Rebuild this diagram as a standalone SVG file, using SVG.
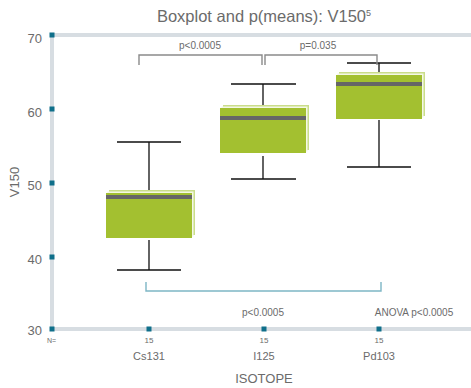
<svg xmlns="http://www.w3.org/2000/svg" width="471" height="388" viewBox="0 0 471 388">
  <style>
    .txt { font-family: "Liberation Sans", "DejaVu Sans", sans-serif; fill: #6b6b6b; }
    .axis { stroke: #d7dde2; stroke-width: 4; fill: none; }
    .tick { fill: #0f6f8a; }
    .whisk { stroke: #111; stroke-width: 1.3; fill: none; }
    .back { fill: #cadd8a; }
    .gap { fill: #f4f8e6; }
    .box { fill: #a3c030; }
    .med { fill: #666; }
    .brk { stroke: #8a8a8a; stroke-width: 1.4; fill: none; }
    .anova { stroke: #7db6c5; stroke-width: 1.4; fill: none; }
  </style>
  <rect width="471" height="388" fill="#fff"/>

  <text class="txt" x="264" y="22" font-size="16.5" text-anchor="middle">Boxplot and p(means): V150<tspan font-size="9" dy="-6">5</tspan></text>

  <!-- axes frame -->
  <g id="axes">
    <path class="axis" d="M52 35 H471 M52 35 V329 M52 329 H471"/>
    <rect class="tick" x="49.5" y="32.5" width="5" height="5"/>
    <rect class="tick" x="49.5" y="106.5" width="5" height="5"/>
    <rect class="tick" x="49.5" y="180.5" width="5" height="5"/>
    <rect class="tick" x="49.5" y="254.5" width="5" height="5"/>
    <rect class="tick" x="49.5" y="326.5" width="5" height="5"/>
    <rect class="tick" x="146.5" y="326.5" width="5" height="5"/>
    <rect class="tick" x="261.5" y="326.5" width="5" height="5"/>
    <rect class="tick" x="376.5" y="326.5" width="5" height="5"/>
    <g class="txt" font-size="13" text-anchor="end">
      <text x="42" y="43">70</text>
      <text x="42" y="117">60</text>
      <text x="42" y="190">50</text>
      <text x="42" y="264">40</text>
      <text x="42" y="335">30</text>
    </g>
    <text class="txt" font-size="13" text-anchor="middle" transform="translate(19 182) rotate(-90)">V150</text>
    <text class="txt" x="47" y="343" font-size="7">N=</text>
    <g class="txt" font-size="8" text-anchor="middle">
      <text x="149" y="343">15</text>
      <text x="264" y="343">15</text>
      <text x="379" y="343">15</text>
    </g>
    <g class="txt" font-size="11" text-anchor="middle">
      <text x="149" y="360">Cs131</text>
      <text x="264" y="360">I125</text>
      <text x="379" y="360">Pd103</text>
    </g>
    <text class="txt" x="264" y="383" font-size="13" text-anchor="middle">ISOTOPE</text>
  </g>

  <!-- Cs131 -->
  <g id="box-cs131">
    <path class="whisk" d="M117 142 H181 M149 142 V190 M149 240 V270 M117 270 H181"/>
    <rect class="back" x="109" y="190" width="86" height="45"/>
    <rect class="gap" x="107.5" y="191.5" width="86" height="45"/>
    <rect class="box" x="106" y="193" width="86" height="45"/>
    <rect class="med" x="106" y="195" width="86" height="4"/>
  </g>

  <!-- I125 -->
  <g id="box-i125">
    <path class="whisk" d="M231 84 H296 M263 84 V105 M263 156 V179 M231 179 H296"/>
    <rect class="back" x="223" y="105" width="86" height="45"/>
    <rect class="gap" x="221.5" y="106.5" width="86" height="45"/>
    <rect class="box" x="220" y="108" width="86" height="45"/>
    <rect class="med" x="220" y="116" width="86" height="4"/>
  </g>

  <!-- Pd103 -->
  <g id="box-pd103">
    <path class="whisk" d="M347 63 H411 M379 63 V72 M379 120 V167 M347 167 H411"/>
    <rect class="back" x="339" y="72" width="86" height="44"/>
    <rect class="gap" x="337.5" y="73.5" width="86" height="44"/>
    <rect class="box" x="336" y="75" width="86" height="44"/>
    <rect class="med" x="336" y="82" width="86" height="4"/>
  </g>

  <!-- significance brackets -->
  <g id="connectors">
    <path class="brk" d="M139 65 V55 H262 V65"/>
    <path class="brk" d="M265 65 V55 H377 V65"/>
    <path class="anova" d="M146 282 V291 H381 V282"/>
  </g>
  <g class="txt" font-size="10" text-anchor="middle">
    <text x="200" y="49">p&lt;0.0005</text>
    <text x="318" y="49">p=0.035</text>
    <text x="263" y="316">p&lt;0.0005</text>
    <text x="414" y="316">ANOVA p&lt;0.0005</text>
  </g>
</svg>
